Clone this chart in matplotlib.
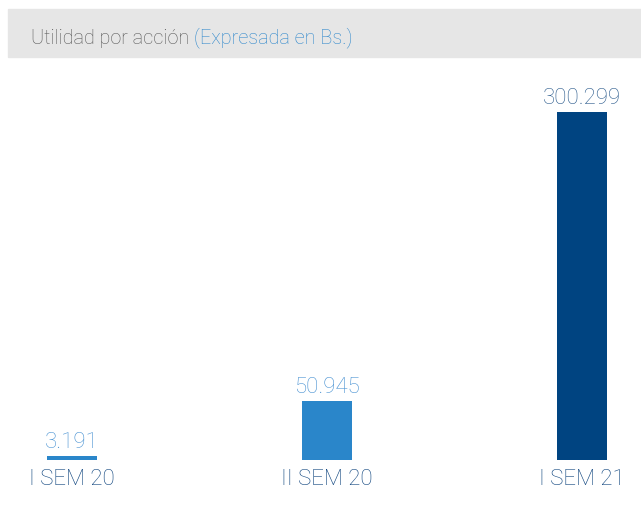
import matplotlib
matplotlib.use("Agg")
import matplotlib.pyplot as plt
from matplotlib.patches import Rectangle

categories = ["I SEM 20", "II SEM 20", "I SEM 21"]
values = [3.191, 50.945, 300.299]
value_labels = ["3.191", "50.945", "300.299"]
bar_colors = ["#2a86ca", "#2a86ca", "#004481"]
label_colors = ["#4a93d3", "#4a93d3", "#2a5a8c"]
title_main = "Utilidad por acción "
title_sub = "(Expresada en Bs.)"

W, H = 641, 506
fig = plt.figure(figsize=(W / 100, H / 100), dpi=100)
plt.rcParams['font.family'] = ['Roboto', 'DejaVu Sans']
FW = "light"

# header band
fig.patches.append(Rectangle((8 / W, (H - 58) / H), (W - 8) / W, 48 / H,
                             transform=fig.transFigure, color="#e6e6e6", zorder=0))
t1 = fig.text(31 / W, (H - 38) / H, title_main, color="#5a5a5a", fontsize=14.3,
              fontweight=FW, va="center", ha="left")
fig.canvas.draw()
bb = t1.get_window_extent()
fig.text(bb.x1 / W, (H - 38) / H, title_sub, color="#2f88cc", fontsize=14.3,
         fontweight=FW, va="center", ha="left")

# axes: centers at px 72, 328, 582 ; bottom at 461, top of max bar at 113
x0, x1 = 8, 641
left_lim = 0 - (72 - x0) / 255
right_lim = 2 + (x1 - 582) / 255
ax = fig.add_axes([x0 / W, (H - 461) / H, (x1 - x0) / W, (461 - 113) / H])
ax.set_xlim(left_lim, right_lim)
ax.set_ylim(0, 300.299)
ax.axis("off")

xs = list(range(len(categories)))
ax.bar(xs, values, width=50 / 255, color=bar_colors, clip_on=False)
for x, v, lab, c in zip(xs, values, value_labels, label_colors):
    ax.annotate(lab, (x, v), xytext=(0, 3), textcoords="offset points",
                ha="center", va="bottom", fontsize=16, color=c,
                fontweight=FW, annotation_clip=False)
    ax.annotate(categories[x], (x, 0), xytext=(0, -13), textcoords="offset points",
                ha="center", va="center", fontsize=16, color="#0f457f",
                fontweight=FW, annotation_clip=False)

fig.savefig("out.png", dpi=100, facecolor="white")
